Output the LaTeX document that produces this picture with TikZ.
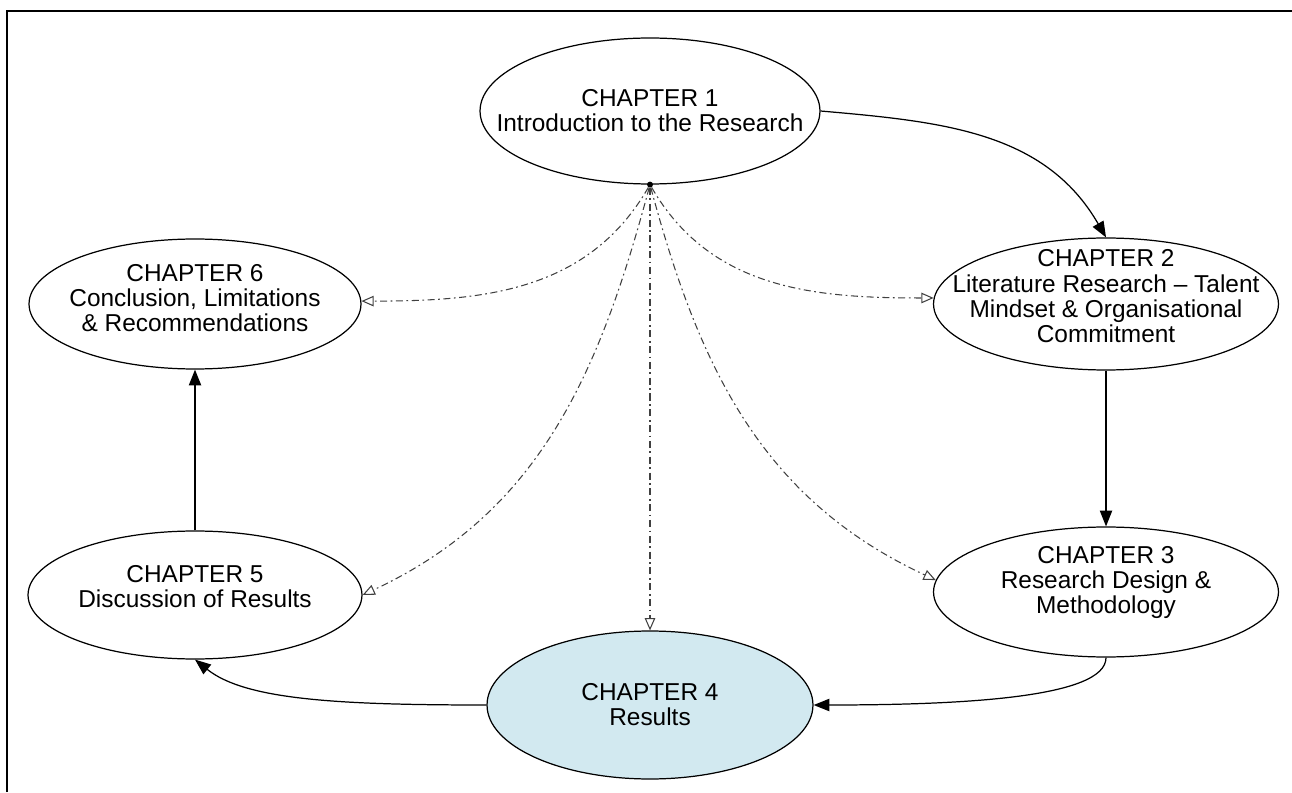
\documentclass[tikz,border=0pt]{standalone}
\usepackage{fontspec}
\setmainfont{Liberation Sans}
\usetikzlibrary{arrows.meta,shapes.geometric,positioning}
\definecolor{resultsblue}{RGB}{210,233,240}

\begin{document}
\begin{tikzpicture}[x = 0.02cm, y = 0.02cm, > = {Triangle[length=9pt,width=7pt]},
    chap/.style = {draw, ellipse, line width = 0.7pt, inner sep = -8mm, align = center, font = \fontsize{13.9}{14.3}\selectfont},
    flow/.style = {->, line width = 0.7pt},
    link/.style = {-{Triangle[open,length=7pt,width=6pt]}, line width = 0.6pt, black!75, dash pattern = on 4pt off 2pt on 1pt off 2pt}]
    \useasboundingbox (0,0) rectangle (1292,792);
    \draw[line width = 1.4pt] (7,0) -- (7,781) -- (1292,781);
    \node at (650,681) [chap, minimum width = 6.8cm, minimum height = 2.92cm] (ch1) {CHAPTER 1\\Introduction to the Research};
    \node at (1106,488) [chap, minimum width = 6.9cm, minimum height = 2.64cm, text depth = 9pt] (ch2) {CHAPTER 2\\Literature Research -- Talent\\Mindset \& Organisational\\Commitment};
    \node at (1106,200) [chap, minimum width = 6.9cm, minimum height = 2.6cm, text depth = 14pt] (ch3) {CHAPTER 3\\Research Design \&\\Methodology};
    \node at (650,87) [chap, fill = resultsblue, minimum width = 6.52cm, minimum height = 2.96cm] (ch4) {CHAPTER 4\\Results};
    \node at (195,197) [chap, minimum width = 6.68cm, minimum height = 2.56cm, text depth = 10pt] (ch5) {CHAPTER 5\\Discussion of Results};
    \node at (195,488) [chap, minimum width = 6.64cm, minimum height = 2.6cm, text depth = 7pt] (ch6) {CHAPTER 6\\Conclusion, Limitations\\\& Recommendations};
    \node at (ch1.south) [circle, fill, inner sep = 1.2pt] (hub) {};
    % main order of the chapters
    \draw[flow] (ch1.east) to[out = -5, in = 120] (ch2.north);
    \draw[flow] (ch2) -- (ch3);
    \draw[flow] (ch3.south) .. controls +(0,-40) and +(150,0) .. (ch4.east);
    \draw[flow] (ch4.west) .. controls +(-150,0) and +(50,-40) .. (ch5.south);
    \draw[flow] (ch5) -- (ch6);
    % links from the introduction
    \draw[link] (hub) to[out = -120, in = 0] (ch6.1);
    \draw[link] (hub) to[out = -60, in = 180] (ch2.178);
    \draw[link] (hub) to[out = -105, in = 25] (ch5.east);
    \draw[link] (hub) to[out = -75, in = 155] (ch3.176);
    \draw[link] (hub) -- (ch4);
\end{tikzpicture}
\end{document}
